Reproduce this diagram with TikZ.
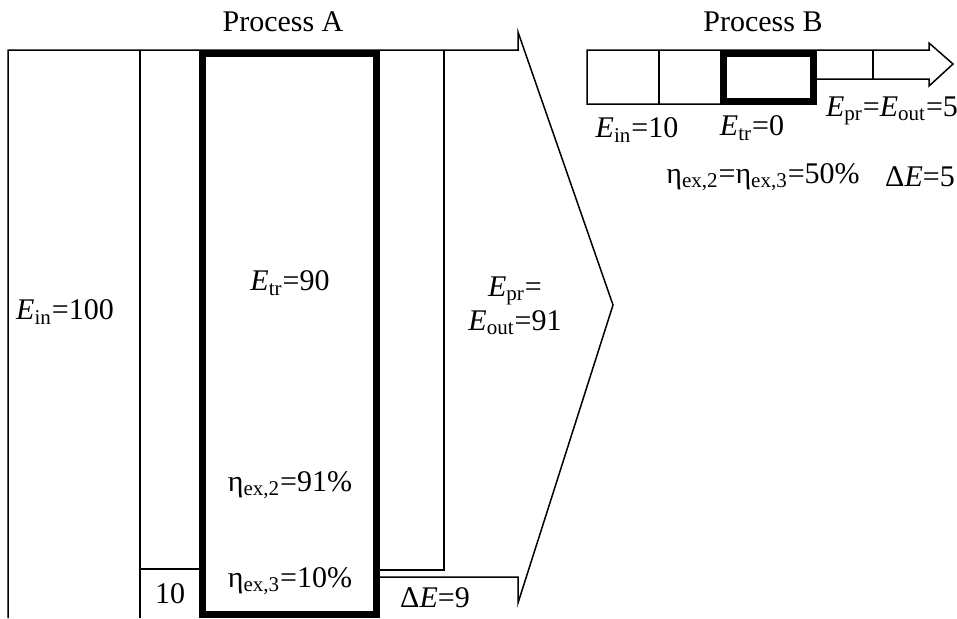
\documentclass[tikz,border=0pt]{standalone}
\usepackage{fontspec}
\setmainfont{Liberation Serif}
\usepackage{tikz}
\usetikzlibrary{positioning}

\newcommand{\EE}[1]{\textit{E}\textsubscript{#1}}
\newcommand{\etaex}[1]{η\textsubscript{ex,#1}}

\tikzset{
  lbl/.style={font=\fontsize{15}{17}\selectfont, inner sep=0pt},
  thinline/.style={line width=0.75pt},
  thickline/.style={line width=3.5pt},
}

\begin{document}
\begin{tikzpicture}[x=0.5pt, y=-0.5pt, line join=miter]
    \useasboundingbox (0,0) rectangle (957,618);

    % Process A: flow arrow
    \draw[thinline] (8,618) -- (8,50) -- (518,50) -- (518,32) -- (613,305)
        -- (518,603) -- (518,577) -- (378,577);
    \draw[thinline] (140,618) -- (140,50);
    \draw[thinline] (140,569) -- (202,569); % loss column
    \draw[thinline] (444,50) -- (444,570) -- (378,570);
    \draw[thickline] (202,53) rectangle (376,614); % transformation

    % Process B: flow arrow
    \draw[thinline] (723,104) -- (587,104) -- (587,50) -- (929,50) -- (929,43)
        -- (953,64) -- (929,86) -- (929,79) -- (813,79);
    \draw[thinline] (659,50) -- (659,104);
    \draw[thinline] (873,50) -- (873,79);
    \draw[thickline] (723.5,53.5) rectangle (813,101); % transformation

    % Process A labels
    \node[lbl] (procA) at (283,22) {Process A};
    \node[lbl] (einA) at (65,312) {\EE{in}=100};
    \node[lbl] (etrA) at (290,283) {\EE{tr}=90};
    \node[lbl] (etaA2) at (290,485) {\etaex{2}=91\%};
    \node[lbl] (etaA3) at (290,581) {\etaex{3}=10\%};
    \node[lbl] (lossA) at (170,594) {10};
    \node[lbl, align=center] (epoA) at (515,306) {\EE{pr}=\\\EE{out}=91};
    \node[lbl] (dEA) at (435,598) {Δ\textit{E}=9};

    % Process B labels
    \node[lbl] (procB) at (763,22) {Process B};
    \node[lbl] (einB) at (637,130) {\EE{in}=10};
    \node[lbl] (etrB) at (752,128) {\EE{tr}=0};
    \node[lbl] (epoB) at (892,111) {\EE{pr}=\EE{out}=5};
    \node[lbl] (etaB) at (763,177) {\etaex{2}=\etaex{3}=50\%};
    \node[lbl] (dEB) at (920,177) {Δ\textit{E}=5};
\end{tikzpicture}
\end{document}
